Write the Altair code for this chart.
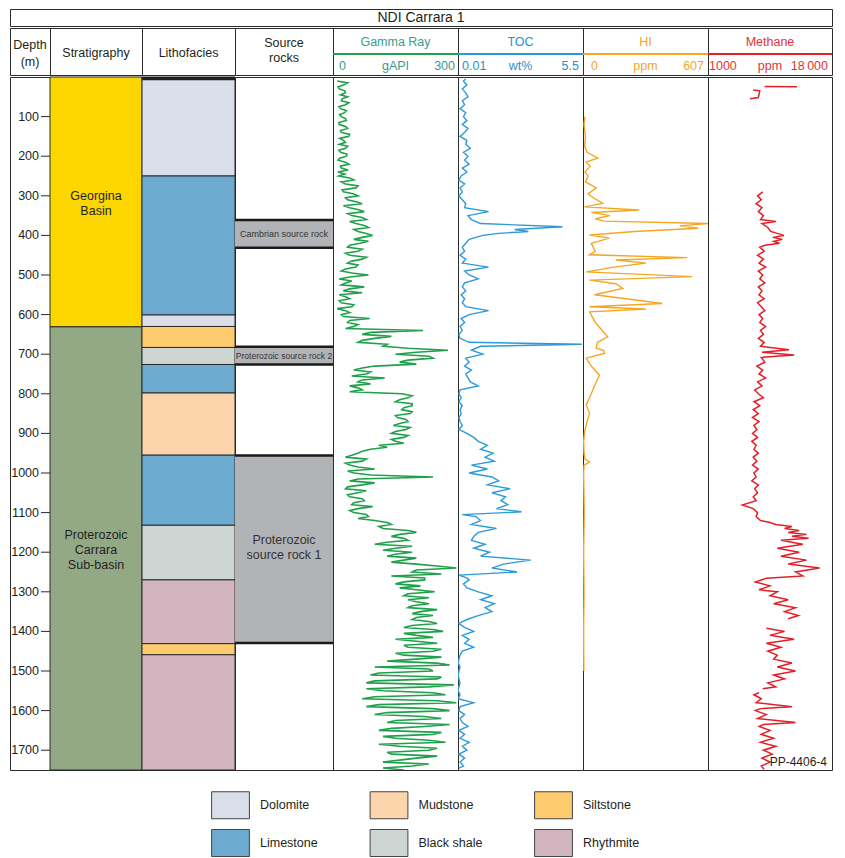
import altair as alt
import pandas as pd

FONT = "Liberation Sans"
INK = "#231F20"
EDGE = "#2B2B2B"

# ---------------- text & layout ----------------
title_text = "NDI Carrara 1"
log_titles = ["Gamma Ray", "TOC", "HI", "Methane"]
log_units = ["gAPI", "wt%", "ppm", "ppm"]
log_min = [0, 0.01, 0, 1000]
log_max = [300, 5.5, 607, 18000]
log_min_text = ["0", "0.01", "0", "1000"]
log_max_text = ["300", "5.5", "607", "18\u2009000"]
log_text_colors = ["#3A9C8A", "#2C8FCB", "#F5A52A", "#E4323B"]
log_line_colors = ["#1FA04A", "#2B9AD8", "#F5A623", "#E31E27"]
log_line_widths = [1.6, 1.4, 1.4, 1.5]
log_lo_dx = [6, 4, 8, 1]
log_hi_dx = [-3, -4, -4, -4]

COL_W = [40, 92, 93, 98, 125, 125, 125, 124]
TOTAL_W = sum(COL_W)
TITLE_H = 17
HEADER_H = 47
BODY_H = 693
DEPTH_MAX = 1750

depth_ticks = [100, 200, 300, 400, 500, 600, 700, 800, 900, 1000,
               1100, 1200, 1300, 1400, 1500, 1600, 1700]

# ---------------- stratigraphy ----------------
strat_top = [0, 631]
strat_base = [631, 1750]
strat_name = ["Georgina Basin", "Proterozoic Carrara Sub-basin"]
strat_label = ["Georgina\nBasin", "Proterozoic\nCarrara\nSub-basin"]
strat_label_depth = [301, 1157]   # depth of the first label line
strat_colors = ["#FDD600", "#93A986"]

# ---------------- lithofacies ----------------
litho_top = [0, 250, 601, 630, 683, 726, 798, 955, 1132, 1270, 1431, 1459]
litho_base = [250, 601, 630, 683, 726, 798, 955, 1132, 1270, 1431, 1459, 1750]
litho_type = ["Dolomite", "Limestone", "Dolomite", "Siltstone", "Black shale", "Limestone",
              "Mudstone", "Limestone", "Black shale", "Rhythmite", "Siltstone", "Rhythmite"]
litho_names = ["Dolomite", "Mudstone", "Siltstone", "Limestone", "Black shale", "Rhythmite"]
litho_colors = ["#D9DEE8", "#FDD5AC", "#FECB6F", "#6DAAD0", "#CDD6D3", "#D2B5BF"]
litho_cap = [0, 8]

# ---------------- source rocks ----------------
src_top = [361, 681, 956]
src_base = [431, 726, 1429]
src_label = ["Cambrian source rock", "Proterozoic source rock 2", "Proterozoic\nsource rock 1"]
src_label_depth = [396, 703.5, 1168]   # depth of the first label line
src_font = [9, 8.5, 12.5]

# ---------------- gamma ray (gAPI) ----------------
# readings at 10, 20, ... 1750 m
gamma_depth_a = list(range(10, 1760, 10))
gamma_val_a = [
    10, 25, 15, 30, 35, 20, 30, 18, 28, 20,
    32, 15, 35, 20, 38, 25, 15, 30, 18, 32,
    12, 38, 20, 12, 14, 50, 30, 55, 25, 60,
    35, 70, 40, 75, 45, 80, 55, 85, 60, 95,
    50, 65, 35, 60, 40, 70, 35, 55, 20, 85,
    15, 30, 75, 25, 15, 40, 20, 45, 30, 20,
    88, 35, 50, 216, 70, 100, 60, 120, 276, 150,
    240, 160, 100, 50, 80, 124, 60, 40, 70, 165,
    180, 150, 190, 165, 185, 155, 180, 145, 175, 140,
    170, 150, 110, 90, 60, 30, 70, 40, 100, 50,
    240, 40, 70, 30, 60, 40, 75, 45, 60, 50,
    85, 100, 140, 120, 200, 140, 180, 100, 150, 190,
    130, 170, 200, 296, 190, 140, 220, 150, 160, 244,
    170, 180, 230, 180, 210, 240, 190, 250, 170, 264,
    200, 150, 250, 180, 240, 170, 200, 250, 100, 240,
    90, 250, 80, 230, 120, 270, 70, 296, 80, 280,
    100, 260, 130, 220, 110, 240, 150, 270, 160, 230,
    140, 200, 120, 190, 170]
# readings at 15, 25, ... 1745 m
gamma_depth_b = list(range(15, 1750, 10))
gamma_val_b = [
    35, 12, 28, 18, 22, 38, 14, 32, 16, 30,
    14, 30, 18, 40, 16, 30, 35, 14, 34, 16,
    30, 18, 36, 28, 40, 20, 60, 22, 48, 30,
    55, 25, 62, 35, 70, 40, 75, 50, 80, 70,
    85, 40, 70, 30, 80, 45, 60, 30, 45, 40,
    45, 20, 40, 70, 30, 15, 50, 10, 40, 25,
    40, 60, 30, 90, 140, 70, 130, 180, 200, 230,
    180, 200, 70, 90, 45, 70, 90, 60, 40, 190,
    160, 190, 170, 190, 150, 175, 160, 185, 150, 180,
    140, 170, 130, 70, 45, 80, 30, 60, 35, 90,
    60, 100, 35, 80, 35, 70, 50, 95, 40, 80,
    60, 130, 110, 180, 160, 170, 130, 190, 120, 150,
    200, 140, 250, 200, 260, 220, 170, 210, 200, 180,
    230, 200, 190, 250, 190, 200, 230, 190, 240, 170,
    240, 200, 170, 260, 150, 260, 130, 280, 230, 110,
    260, 100, 290, 80, 240, 100, 250, 110, 240, 130,
    220, 150, 280, 140, 260, 120, 230, 110, 250, 130,
    250, 160, 230, 120]

# ---------------- TOC (wt%) ----------------
toc_depth = [
    5, 10, 20, 30, 40, 50, 60, 70, 80, 90,
    100, 110, 120, 130, 140, 150, 160, 170, 180, 190,
    200, 210, 220, 230, 240, 250, 260, 270, 280, 290,
    300, 310, 320, 330, 340, 350, 360, 370, 378, 385,
    390, 395, 400, 410, 420, 430, 440, 450, 460, 470,
    480, 490, 500, 510, 520, 530, 540, 550, 560, 570,
    580, 590, 600, 610, 620, 630, 640, 650, 660, 670,
    675, 680, 690, 700, 710, 720, 730, 740, 750, 760,
    770, 780, 790, 800, 810, 820, 830, 840, 850, 860,
    870, 880, 890, 900, 910, 920, 930, 940, 950, 960,
    970, 980, 990, 1000, 1010, 1020, 1030, 1040, 1050, 1060,
    1070, 1080, 1090, 1098, 1105, 1110, 1120, 1130, 1140, 1150,
    1160, 1170, 1180, 1190, 1200, 1210, 1220, 1230, 1240, 1250,
    1258, 1265, 1270, 1280, 1290, 1300, 1310, 1320, 1330, 1340,
    1350, 1360, 1370, 1380, 1390, 1400, 1410, 1420, 1430, 1440,
    1450, 1460, 1470, 1480, 1490, 1500, 1510, 1520, 1530, 1540,
    1550, 1560, 1570, 1580, 1590, 1600, 1610, 1620, 1630, 1640,
    1650, 1660, 1670, 1680, 1690, 1700, 1710, 1720, 1730, 1740, 1745]
toc_val = [
    0.35, 0.25, 0.4, 0.2, 0.35, 0.45, 0.2, 0.3, 0.1, 0.35,
    0.25, 0.4, 0.2, 0.45, 0.3, 0.1, 0.4, 0.35, 0.55, 0.25,
    0.45, 0.3, 0.5, 0.2, 0.4, 0.15, 0.05, 0.3, 0.1, 0.2,
    0.05, 0.2, 0.35, 0.3, 1.35, 0.45, 0.6, 1.0, 4.6, 2.5,
    3.1, 1.8, 1.1, 0.5, 0.35, 0.2, 0.3, 0.1, 0.35, 0.2,
    1.35, 0.3, 0.5, 0.9, 0.3, 0.2, 0.35, 0.15, 0.3, 0.2,
    0.35, 1.35, 0.5, 0.15, 0.3, 0.1, 0.2, 0.05, 0.1, 0.5,
    5.45, 1.0, 0.6, 1.1, 0.35, 0.5, 0.3, 0.6, 0.35, 0.45,
    0.55, 0.9, 0.1, 0.05, 0.15, 0.05, 0.2, 0.1, 0.15, 0.05,
    0.1, 0.2, 0.05, 0.4, 0.7, 0.9, 1.3, 1.0, 1.55, 1.2,
    1.6, 0.6, 1.3, 0.5, 1.5, 1.8, 1.3, 2.3, 1.5, 2.1,
    1.9, 2.2, 1.7, 2.8, 0.2, 0.8, 1.0, 0.6, 1.7, 0.9,
    0.7, 0.6, 1.2, 0.7, 1.4, 1.0, 3.2, 2.0, 1.5, 2.6,
    0.05, 0.4, 0.5, 0.25, 0.4, 0.9, 1.5, 1.0, 1.6, 1.2,
    1.5, 0.9, 0.4, 0.05, 0.3, 0.7, 0.2, 0.5, 0.3, 0.7,
    0.2, 0.1, 0.05, 0.02, 0.1, 0.05, 0.02, 0.05, 0.1, 0.05,
    0.02, 0.1, 0.02, 0.7, 0.1, 0.05, 0.3, 0.1, 0.2, 0.45,
    0.05, 0.3, 0.1, 0.5, 0.2, 0.4, 0.05, 0.3, 0.1, 0.25, 0.05]

# ---------------- HI (ppm) ----------------
hi_depth = [100, 120, 150, 175, 190, 205, 215, 225, 240, 250,
            265, 280, 295, 305, 319, 328, 336, 342, 350, 358,
            364, 370, 376, 382, 390, 399, 407, 420, 440, 449,
            456, 462, 470, 480, 492, 504, 513, 522, 534, 550,
            560, 572, 580, 586, 593, 620, 656, 670, 685, 690,
            698, 710, 730, 753, 770, 800, 828, 850, 870, 896,
            920, 950, 965, 972, 980, 1000, 1100, 1200, 1300, 1400, 1500]
hi_val = [10, 5, 12, 8, 20, 72, 15, 35, 10, 25,
          12, 64, 25, 50, 96, 8, 273, 40, 130, 60,
          100, 610, 470, 560, 250, 32, 128, 40, 60, 32,
          506, 160, 305, 150, 16, 530, 32, 160, 193, 56,
          210, 385, 32, 305, 32, 60, 120, 70, 64, 100,
          104, 16, 40, 80, 64, 40, 16, 32, 20, 8,
          3, 5, 10, 32, 5, 3, 6, 3, 5, 3, 4]

# ---------------- Methane (ppm), in recorded segments ----------------
meth_a_depth = [24, 24.5]
meth_a_val = [8760, 13200]
meth_b_depth = [33, 35, 52, 55]
meth_b_val = [7200, 8100, 7900, 6750]
meth_c_depth = [
    290, 300, 310, 320, 330, 340, 350, 360, 365, 370,
    380, 390, 400, 405, 410, 415, 420, 425, 430, 440,
    450, 460, 470, 480, 490, 500, 510, 520, 530, 540,
    550, 560, 570, 580, 590, 600, 610, 620, 630, 640,
    650, 660, 670, 680, 689, 695, 702, 708, 720, 730,
    740, 750, 760, 770, 780, 790, 800, 810, 820, 830,
    840, 850, 860, 870, 880, 890, 900, 910, 920, 930,
    940, 950, 960, 970, 980, 990, 1000, 1010, 1020, 1030,
    1040, 1050, 1060, 1070, 1081, 1090, 1100, 1110, 1120, 1125,
    1130, 1135, 1140, 1145, 1150, 1155, 1160, 1165, 1170, 1180,
    1190, 1200, 1210, 1220, 1230, 1240, 1250, 1260, 1266, 1275,
    1285, 1295, 1300, 1310, 1320, 1330, 1340, 1350, 1360, 1368]
meth_c_val = [
    8500, 7800, 8300, 7600, 8400, 7900, 8600, 8200, 10300, 8400,
    9200, 9600, 11400, 9900, 11200, 10000, 10800, 8800, 8100, 8700,
    7800, 8600, 8000, 8900, 7900, 8500, 8100, 8800, 7900, 8400,
    8000, 8700, 7800, 8300, 8800, 8000, 8500, 8100, 8900, 8200,
    8600, 7900, 8700, 8200, 12100, 8400, 12800, 8300, 8800, 7700,
    8500, 8000, 8900, 7800, 8400, 7400, 7900, 8600, 7300, 8100,
    7200, 7900, 7100, 8000, 7300, 7700, 7100, 7800, 7000, 7600,
    7300, 7900, 7200, 7700, 7100, 7900, 7300, 7600, 7000, 7900,
    7400, 7800, 7200, 7600, 5700, 7200, 7800, 7600, 8200, 9500,
    10300, 12500, 11500, 13500, 12000, 14500, 12500, 14800, 11000, 14000,
    10500, 13500, 11000, 14500, 12000, 16300, 13000, 14000, 9000, 7500,
    9500, 8000, 10500, 9500, 12000, 10000, 13000, 11500, 13400, 12000]
meth_d_depth = [1392, 1400, 1410, 1420, 1430, 1440, 1450, 1460, 1470, 1480,
                1490, 1500, 1510, 1520, 1530, 1540, 1545]
meth_d_val = [9000, 11500, 9500, 12800, 9000, 11000, 9200, 10500, 10000, 12500,
              10500, 13000, 10000, 11500, 9200, 10300, 8500]
meth_e_depth = [1555, 1560, 1570, 1580, 1590, 1595, 1600, 1610, 1620, 1630,
                1635, 1640, 1650, 1660, 1670, 1680, 1690, 1700, 1710, 1720,
                1730, 1740, 1748]
meth_e_val = [8000, 7300, 8300, 7600, 12500, 8200, 7500, 9000, 7800, 13000,
              8600, 8000, 9500, 8300, 10000, 8200, 10300, 8600, 9800, 8400,
              9500, 8300, 8700]
figure_id = "PP-4406-4"

# ---------------- build tables ----------------
one = pd.DataFrame({"k": [0]})
yscale = alt.Scale(domain=[0, DEPTH_MAX], reverse=True, nice=False, zero=False)


def Yd(field):
    return alt.Y(field, type="quantitative", scale=yscale, axis=None)


gamma_df = pd.DataFrame({"depth": gamma_depth_a + gamma_depth_b,
                         "value": gamma_val_a + gamma_val_b, "seg": 1})
toc_df = pd.DataFrame({"depth": toc_depth, "value": toc_val, "seg": 1})
hi_df = pd.DataFrame({"depth": hi_depth, "value": hi_val, "seg": 1})
meth_parts = []
for k, (d, v) in enumerate([(meth_a_depth, meth_a_val), (meth_b_depth, meth_b_val),
                            (meth_c_depth, meth_c_val), (meth_d_depth, meth_d_val),
                            (meth_e_depth, meth_e_val)]):
    meth_parts.append(pd.DataFrame({"depth": d, "value": v, "seg": k}))
meth_df = pd.concat(meth_parts, ignore_index=True)
log_dfs = [gamma_df, toc_df, hi_df, meth_df]

# ---------------- title row ----------------
title_chart = alt.Chart(one).mark_text(
    text=title_text, font=FONT, fontSize=14, color=INK, baseline="middle"
).encode(x=alt.value(TOTAL_W / 2), y=alt.value(TITLE_H / 2)).properties(width=TOTAL_W, height=TITLE_H)


# ---------------- header row ----------------
def plain_header(lines, w, y, lh):
    return alt.Chart(one).mark_text(
        text=lines, lineHeight=lh, font=FONT, fontSize=12.5, color=INK,
        align="center", baseline="middle"
    ).encode(x=alt.value(w / 2), y=alt.value(y)).properties(width=w, height=HEADER_H)


def log_header(i, w):
    xs = alt.Scale(domain=[log_min[i], log_max[i]], nice=False, zero=False)
    name = alt.Chart(one).mark_text(
        text=log_titles[i], font=FONT, fontSize=12.5, color=log_text_colors[i], baseline="middle"
    ).encode(x=alt.value(w / 2), y=alt.value(13.5))
    rule = alt.Chart(one).mark_rule(color=log_line_colors[i], strokeWidth=2).encode(
        x=alt.value(0), x2=alt.value(w), y=alt.value(26))
    lo = alt.Chart(pd.DataFrame({"v": [log_min[i]], "t": [log_min_text[i]]})).mark_text(
        align="left", baseline="middle", dx=log_lo_dx[i], font=FONT, fontSize=12.5,
        color=log_text_colors[i]
    ).encode(x=alt.X("v:Q", scale=xs, axis=None), y=alt.value(38), text="t:N")
    mid = alt.Chart(pd.DataFrame({"v": [(log_min[i] + log_max[i]) / 2], "t": [log_units[i]]})).mark_text(
        align="center", baseline="middle", font=FONT, fontSize=12.5, color=log_text_colors[i]
    ).encode(x=alt.X("v:Q", scale=xs, axis=None), y=alt.value(38), text="t:N")
    hi = alt.Chart(pd.DataFrame({"v": [log_max[i]], "t": [log_max_text[i]]})).mark_text(
        align="right", baseline="middle", dx=log_hi_dx[i], font=FONT, fontSize=12.5,
        color=log_text_colors[i]
    ).encode(x=alt.X("v:Q", scale=xs, axis=None), y=alt.value(38), text="t:N")
    return alt.layer(name, rule, lo, mid, hi).properties(width=w, height=HEADER_H)


headers = [
    plain_header(["Depth", "(m)"], COL_W[0], 17, 17),
    plain_header("Stratigraphy", COL_W[1], 25, 15),
    plain_header("Lithofacies", COL_W[2], 25, 15),
    plain_header(["Source", "rocks"], COL_W[3], 15, 15),
] + [log_header(i, COL_W[4 + i]) for i in range(4)]
header_row = alt.hconcat(*headers, spacing=0, bounds="flush")

# ---------------- body row ----------------
tick_df = pd.DataFrame({"depth": depth_ticks})
w0 = COL_W[0]
depth_body = alt.layer(
    alt.Chart(tick_df).mark_rule(color=EDGE, strokeWidth=1).encode(
        x=alt.value(w0 - 9), x2=alt.value(w0), y=Yd("depth")),
    alt.Chart(tick_df).mark_text(align="right", baseline="middle", font=FONT, fontSize=12.5,
                                 color=INK).encode(
        x=alt.value(w0 - 11), y=Yd("depth"), text=alt.Text("depth:Q", format="d")),
).properties(width=w0, height=BODY_H)

w1 = COL_W[1]
strat_df = pd.DataFrame({"top": strat_top, "base": strat_base, "name": strat_name,
                         "label": strat_label, "ld": strat_label_depth})
strat_body = alt.layer(
    alt.Chart(strat_df).mark_rect(stroke=EDGE, strokeWidth=1).encode(
        x=alt.value(0), x2=alt.value(w1), y=Yd("top"), y2="base:Q",
        fill=alt.Fill("name:N", scale=alt.Scale(domain=strat_name, range=strat_colors), legend=None)),
    alt.Chart(strat_df).mark_text(lineBreak="\n", lineHeight=15, font=FONT, fontSize=12.5,
                                  color=INK, align="center", baseline="middle").encode(
        x=alt.value(w1 / 2), y=Yd("ld"), text="label:N"),
).properties(width=w1, height=BODY_H)

w2 = COL_W[2]
lith_df = pd.DataFrame({"top": litho_top, "base": litho_base, "lith": litho_type})
litho_body = alt.layer(
    alt.Chart(lith_df).mark_rect(stroke=EDGE, strokeWidth=1).encode(
        x=alt.value(0), x2=alt.value(w2), y=Yd("top"), y2="base:Q",
        color=alt.Color("lith:N", scale=alt.Scale(domain=litho_names, range=litho_colors),
                        legend=alt.Legend(
                            orient="none", legendX=74.5, legendY=714, direction="horizontal",
                            columns=3, title=None, padding=0,
                            symbolType="M-1.4,-1H1.4V1H-1.4Z", symbolSize=729,
                            symbolStrokeColor="#444444", symbolStrokeWidth=1, symbolOpacity=1,
                            labelFont=FONT, labelFontSize=12.5, labelColor=INK, labelOffset=15.5,
                            columnPadding=49.5, rowPadding=6, labelLimit=200))),
    alt.Chart(pd.DataFrame({"top": [litho_cap[0]], "base": [litho_cap[1]]})).mark_rect(
        color="#1E1E1E").encode(x=alt.value(0), x2=alt.value(w2), y=Yd("top"), y2="base:Q"),
).properties(width=w2, height=BODY_H)

w3 = COL_W[3]
src_df = pd.DataFrame({"top": src_top, "base": src_base, "label": src_label,
                       "ld": src_label_depth, "fs": src_font})
src_body = alt.layer(
    alt.Chart(src_df).mark_rect(color="#B2B3B6").encode(
        x=alt.value(0), x2=alt.value(w3), y=Yd("top"), y2="base:Q"),
    alt.Chart(src_df).mark_rule(color="#1A1A1A", strokeWidth=2.5).encode(
        x=alt.value(0), x2=alt.value(w3), y=Yd("top")),
    alt.Chart(src_df).mark_rule(color="#1A1A1A", strokeWidth=2.5).encode(
        x=alt.value(0), x2=alt.value(w3), y=Yd("base")),
    alt.Chart(src_df).mark_text(
        lineBreak="\n", lineHeight=15, font=FONT, color="#333333",
        align="center", baseline="middle").encode(
        x=alt.value(w3 / 2), y=Yd("ld"), text="label:N", size=alt.Size("fs:Q", scale=None)),
).properties(width=w3, height=BODY_H)


def log_body(i, w):
    xs = alt.Scale(domain=[log_min[i], log_max[i]], nice=False, zero=False)
    return alt.Chart(log_dfs[i]).mark_line(
        color=log_line_colors[i], strokeWidth=log_line_widths[i], clip=True).encode(
        x=alt.X("value:Q", scale=xs, axis=None), y=Yd("depth"),
        order=alt.Order("depth:Q"), detail="seg:N")


log_bodies = [log_body(i, COL_W[4 + i]).properties(width=COL_W[4 + i], height=BODY_H)
              for i in range(3)]
w7 = COL_W[7]
meth_body = alt.layer(
    log_body(3, w7),
    alt.Chart(one).mark_text(text=figure_id, font=FONT, fontSize=12, color=INK,
                             align="right", baseline="middle").encode(
        x=alt.value(w7 - 5), y=alt.value(BODY_H - 8)),
).properties(width=w7, height=BODY_H)

body_row = alt.hconcat(depth_body, strat_body, litho_body, src_body, *log_bodies, meth_body,
                       spacing=0, bounds="flush").resolve_scale(
    color="independent", fill="independent", size="independent")

chart = alt.vconcat(title_chart, header_row, body_row, spacing=0).properties(
    padding={"left": 1, "top": 0, "right": 1, "bottom": 1}
).configure(font=FONT).configure_view(stroke=EDGE, strokeWidth=1)

chart.save("out.html", embed_options={"renderer": "svg", "actions": False})
